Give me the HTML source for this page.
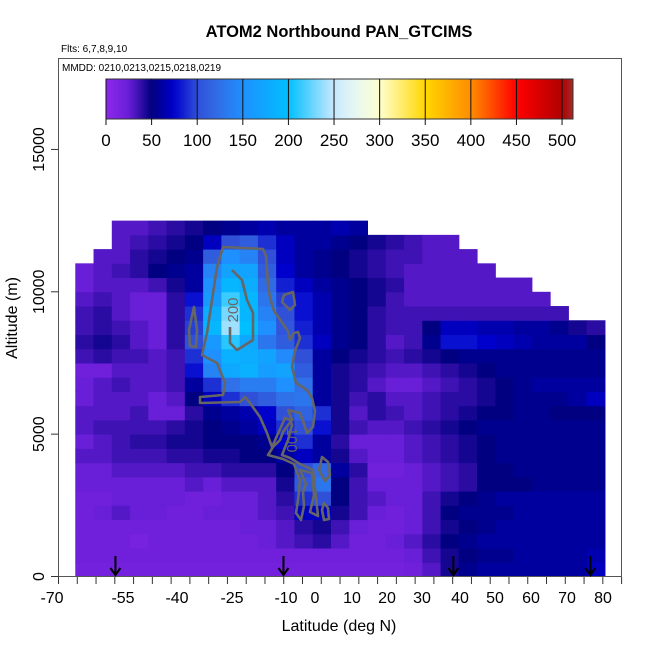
<!DOCTYPE html>
<html><head><meta charset="utf-8"><style>
body{margin:0;background:#fff}
svg text{font-family:"Liberation Sans",Arial,sans-serif}
</style></head><body>
<svg id="c" width="650" height="650" viewBox="0 0 650 650" xmlns="http://www.w3.org/2000/svg">
<text x="339" y="37" text-anchor="middle" font-size="16.5" font-weight="bold">ATOM2 Northbound PAN_GTCIMS</text>
<text x="61" y="52" font-size="10">Flts: 6,7,8,9,10</text>
<g id="cells"></g>
<g id="contours" fill="none" stroke="#666" stroke-width="2.6" stroke-linejoin="round">
<path d="M223,247 L263,249 L266,256 L267,270 L268,285 L270,298 L274,311 L281,321 L288,331 L290,340 L294,333 L298,332 L300,338 L295,351 L292,367 L296,383 L307,390 L312,398 L315,411 L313,427 L307,433 L303,421 L300,413 L288,410 L292,420 L288,425 L283,432 L280,440 L273,447 L268,455 L283,459 L294,464 L300,480 L298,500 L296,513 L301,520 L304,506 L303,492 L306,484 L300,470 L312,473 L314,495 L310,512 L318,516 L316,498 L313,470 L300,464 L290,458 L282,455 L288,440 L292,425 L290,420 L285,418 L272,447 L267,433 L260,417 L250,403 L245,397 L240,402 L200,403 L200,397 L223,395 L225,383 L217,363 L202,355 L207,333 L212,300 L217,267 Z"/>
<path d="M232,270 L242,280 L247,300 L253,313 L253,340 L237,350 L230,343 L230,327"/>
<path d="M194,307 L197,330 L196,347 L190,346 L189,330 Z"/>
<path d="M284,295 L293,292 L295,305 L290,310 L282,302 Z"/>
<path d="M322,457 L328,462 L330,475 L325,481 L319,470 Z"/>
<path d="M324,503 L328,508 L329,519 L324,520 L322,510 Z"/>
<text x="238" y="310" transform="rotate(-90 238 310)" text-anchor="middle" fill="#666" stroke="none" font-size="15">200</text>
<text x="287" y="440" transform="rotate(90 287 440)" text-anchor="middle" fill="#666" stroke="none" font-size="15">100</text>
</g>
<rect x="58.5" y="58.5" width="563" height="518" fill="none" stroke="#555" stroke-width="1"/>
<text x="62" y="71" font-size="10">MMDD: 0210,0213,0215,0218,0219</text>
<defs><linearGradient id="cb" x1="0" x2="1" y1="0" y2="0"></linearGradient></defs>
<rect x="106" y="79" width="467" height="40" fill="url(#cb)" stroke="#333"/>
<g id="cbticks"></g>
<g id="axes"></g>
<g id="arrows"></g>
<text x="339" y="631" text-anchor="middle" font-size="16">Latitude (deg N)</text>
<text x="17" y="318" transform="rotate(-90 17 318)" text-anchor="middle" font-size="16">Altitude (m)</text>
</svg>
<script>
const NS='http://www.w3.org/2000/svg';
const latBins=[-65,-60,-55,-50,-45,-40,-35,-30,-25,-20,-15,-10,-5,0,5,10,15,20,25,30,35,40,45,50,55,60,65,70,75];
const altBins=[0,500,1000,1500,2000,2500,3000,3500,4000,4500,5000,5500,6000,6500,7000,7500,8000,8500,9000,9500,10000,10500,11000,11500,12000];
const _=null;
const row0=[18,18,18,18,18,18,18,18,18,18,18,18,18,18,18,18,18,18,20,30,45,55,60,60,60,60,60,60,70];
const row1=[20,20,20,20,20,20,20,20,20,20,20,20,20,20,20,20,20,20,25,35,45,50,55,55,60,60,60,60,65];
const row2=[20,20,20,15,20,20,20,20,20,20,25,30,35,40,30,20,20,25,30,40,50,55,60,60,60,60,60,60,60];
const row3=[20,20,20,20,20,20,20,20,20,25,25,30,40,45,35,25,20,20,25,35,45,50,55,60,60,60,60,60,60];
const row4=[20,25,30,25,25,20,20,25,25,25,30,35,70,70,45,35,25,20,25,35,50,55,55,55,60,60,60,60,60];
const row5=[20,20,25,25,25,25,20,20,25,25,30,40,90,100,50,35,30,25,25,35,45,50,55,60,60,60,60,60,60];
const row6=[25,25,25,25,25,25,30,25,30,30,30,45,110,130,50,35,25,25,25,30,35,40,50,50,50,55,55,55,55];
const row7=[25,25,30,30,30,30,35,35,40,40,40,50,100,120,60,40,20,20,25,30,35,40,50,50,55,55,55,55,55];
const row8=[30,30,35,35,35,40,40,45,45,50,50,60,70,60,45,30,25,25,30,35,40,45,50,55,55,55,55,55,55];
const row9=[25,30,35,40,40,45,45,50,50,50,55,75,90,60,40,25,25,25,30,35,40,45,50,55,55,55,55,55,55];
const row10=[30,35,35,35,35,40,45,50,55,60,70,90,100,80,45,35,30,30,35,40,45,50,55,55,55,55,55,55,55];
const row11=[30,30,30,35,25,25,40,55,60,65,75,100,115,90,45,30,40,35,30,35,40,45,50,50,55,55,50,50,50];
const row12=[25,30,30,30,25,30,50,70,90,100,110,125,130,60,45,35,40,30,30,35,40,40,45,50,55,55,55,60,70];
const row13=[25,30,35,30,30,35,60,90,125,135,135,150,125,60,45,40,30,25,25,30,35,40,45,50,55,60,60,60,60];
const row14=[20,20,30,30,30,35,80,140,175,185,165,170,110,60,45,40,35,30,30,35,40,45,50,55,55,55,55,55,55];
const row15=[35,40,35,35,30,35,90,150,185,180,170,145,100,60,50,45,40,35,40,45,50,55,55,55,55,55,55,55,55];
const row16=[40,45,40,30,25,40,100,160,210,175,130,110,90,70,55,50,40,30,35,55,80,80,75,70,65,60,60,60,50];
const row17=[35,40,35,30,25,40,95,190,240,200,150,105,85,65,55,50,40,35,35,50,70,70,65,65,60,60,55,45,40];
const row18=[35,40,30,25,25,40,90,180,230,190,140,100,80,65,55,50,40,35,35,35,35,35,35,35,35,35,35,_,_];
const row19=[30,35,30,25,25,40,80,160,215,190,130,95,80,65,55,50,45,35,30,30,30,30,30,30,30,30,_,_,_];
const row20=[25,30,30,30,35,45,60,150,190,180,120,85,70,60,55,50,45,40,30,30,30,30,30,30,30,_,_,_,_];
const row21=[25,30,35,40,50,55,60,140,170,170,110,75,60,55,50,45,40,35,30,30,30,30,30,_,_,_,_,_,_];
const row22=[_,30,30,40,45,50,55,110,150,140,100,70,60,55,50,45,40,35,35,30,30,30,_,_,_,_,_,_,_];
const row23=[_,_,30,35,40,45,50,70,100,110,90,70,60,60,55,50,45,40,35,30,30,_,_,_,_,_,_,_,_];
const row24=[_,_,30,30,35,40,45,50,55,60,65,60,60,60,65,60,_,_,_,_,_,_,_,_,_];
const grid=[row0,row1,row2,row3,row4,row5,row6,row7,row8,row9,row10,row11,row12,row13,row14,row15,row16,row17,row18,row19,row20,row21,row22,row23,row24];
const xTickLabels=[-70,-55,-40,-25,-10,0,10,20,30,40,50,60,70,80];
const xLabelPos=[50,121,175,230,284,313,350,385,420,458,493,529,565,601];
const yTicks=[0,5000,10000,15000];
const cbTicks=[0,50,100,150,200,250,300,350,400,450,500];
const markerLats=[-54,-8,38.5,76];

const X=lat=>57+(lat+70)*3.653;
const Y=alt=>576.5-alt*0.02847;
const CB=v=>106+v*(467/512);
const stops=[[0,[140,40,235]],[25,[105,30,215]],[50,[0,0,128]],[75,[0,0,205]],[100,[48,80,216]],[125,[48,112,232]],[150,[30,144,255]],[200,[0,191,255]],[250,[200,232,255]],[275,[232,248,240]],[300,[255,255,208]],[350,[255,215,0]],[400,[255,140,0]],[450,[255,0,0]],[500,[176,0,0]],[512,[165,42,42]]];
function col(v){for(let i=1;i<stops.length;i++){if(v<=stops[i][0]){const a=stops[i-1],b=stops[i],t=(v-a[0])/(b[0]-a[0]);return 'rgb('+a[1].map((c,k)=>Math.round(c+(b[1][k]-c)*t)).join(',')+')';}}return 'rgb(165,42,42)';}

const cells=document.getElementById('cells');
grid.forEach((row,r)=>{row.forEach((v,c)=>{if(v==null||c>=latBins.length)return;
 const x0=X(latBins[c]),x1=X(latBins[c]+5),y0=Y(altBins[r]+500),y1=Y(altBins[r]);
 const e=document.createElementNS(NS,'rect');
 e.setAttribute('x',x0);e.setAttribute('y',y0);e.setAttribute('width',x1-x0+0.5);e.setAttribute('height',y1-y0+0.5);
 e.setAttribute('fill',col(v));
 
 
 cells.appendChild(e);});});

const g=document.getElementById('cb');
for(let v=0;v<=512;v+=8){const s=document.createElementNS(NS,'stop');s.setAttribute('offset',(v/512));s.setAttribute('stop-color',col(v));g.appendChild(s);}
const cbt=document.getElementById('cbticks');
cbTicks.forEach(v=>{const x=CB(v);
 const l=document.createElementNS(NS,'line');l.setAttribute('x1',x);l.setAttribute('x2',x);l.setAttribute('y1',79);l.setAttribute('y2',125);l.setAttribute('stroke','#111');l.setAttribute('stroke-width','1');
 
 
 cbt.appendChild(l);
 const t=document.createElementNS(NS,'text');t.setAttribute('x',x);t.setAttribute('y',146);t.setAttribute('text-anchor','middle');t.setAttribute('font-size','17');t.textContent=v;
 
 
 cbt.appendChild(t);});

const ax=document.getElementById('axes');
for(let i=0;i<=30;i++){const x=58.5+i*18.77;const l=document.createElementNS(NS,'line');l.setAttribute('x1',x);l.setAttribute('x2',x);l.setAttribute('y1',577);l.setAttribute('y2',584);l.setAttribute('stroke','#333');
 
 
 ax.appendChild(l);}
xTickLabels.forEach((v,i)=>{const t=document.createElementNS(NS,'text');t.setAttribute('x',xLabelPos[i]+2);t.setAttribute('y',603);t.setAttribute('text-anchor','middle');t.setAttribute('font-size','16');t.textContent=v;
 
 
 ax.appendChild(t);});
yTicks.forEach(v=>{const y=Y(v);const l=document.createElementNS(NS,'line');l.setAttribute('x1',51);l.setAttribute('x2',58.5);l.setAttribute('y1',y);l.setAttribute('y2',y);l.setAttribute('stroke','#333');
 
 
 ax.appendChild(l);
 const t=document.createElementNS(NS,'text');t.setAttribute('x',44);t.setAttribute('y',y);t.setAttribute('text-anchor','middle');t.setAttribute('font-size','16');t.setAttribute('transform','rotate(-90 44 '+y+')');t.textContent=v;
 
 
 ax.appendChild(t);});

const ar=document.getElementById('arrows');
markerLats.forEach(lat=>{const x=X(lat);const p=document.createElementNS(NS,'path');
 p.setAttribute('d','M'+x+',556 L'+x+',575 M'+(x-5)+',568 L'+x+',575 L'+(x+5)+',568');
 p.setAttribute('stroke','#000');p.setAttribute('stroke-width','2');p.setAttribute('fill','none');
 
 
 ar.appendChild(p);});
</script>
</body></html>
